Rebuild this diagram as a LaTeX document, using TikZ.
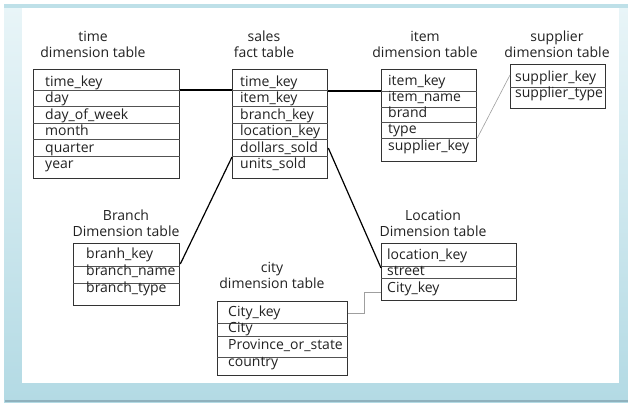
\documentclass[tikz,border=0pt]{standalone}
\usepackage{fontspec}
\setmainfont{Open Sans}
\definecolor{framebl}{HTML}{B3DAE4}
\definecolor{framelt}{HTML}{E9F5F8}
\definecolor{shadowbl}{HTML}{8FB1BD}
\definecolor{ink}{HTML}{222222}
\definecolor{rulec}{HTML}{333333}
\tikzset{
  tbl/.style={draw=rulec, line width=1.3pt, anchor=north west, inner sep=0pt},
  field/.style={anchor=base west, inner sep=0pt, text=ink, font=\fontsize{14}{16}\selectfont},
  ttl/.style={anchor=base, align=center, inner sep=0pt, text=ink, font=\fontsize{14}{16}\selectfont},
  rowsep/.style={draw=rulec!85, line width=0.8pt},
  link/.style={draw=black, line width=1.2pt},
  thinlink/.style={draw=gray!75, line width=0.6pt},
}
\begin{document}
\begin{tikzpicture}[x=1pt, y=-1pt]
\useasboundingbox (0,0) rectangle (628,407);
% frame
\fill[white] (0,0) rectangle (628,407);
\shade[top color=framelt, bottom color=framebl] (4,4) rectangle (628,402);
\fill[framebl!85] (4,4) rectangle (628,8);
\fill[shadowbl] (5,399.5) rectangle (628,402);
\fill[white] (22,8) rectangle (619,383);

% titles
\node[ttl] (timeT) at (93,57) {time\\dimension table};
\node[ttl] (salesT) at (264,57) {sales\\fact table};
\node[ttl] (itemT) at (425,57) {item\\dimension table};
\node[ttl] (suppT) at (557,57) {supplier\\dimension table};
\node[ttl] (branchT) at (126,236) {Branch\\Dimension table};
\node[ttl] (locT) at (433,236) {Location\\Dimension table};
\node[ttl] (cityT) at (272,288) {city\\dimension table};

% tables
\node[tbl, minimum width=146pt, minimum height=109pt] (time) at (33,69) {};
\node[tbl, minimum width=95pt, minimum height=109pt] (sales) at (232,69) {};
\node[tbl, minimum width=95pt, minimum height=92pt] (item) at (381,69) {};
\node[tbl, minimum width=95pt, minimum height=44pt] (supplier) at (510,64) {};
\node[tbl, minimum width=106pt, minimum height=62pt] (branch) at (73,243) {};
\node[tbl, minimum width=135pt, minimum height=57pt] (location) at (381,243) {};
\node[tbl, minimum width=130pt, minimum height=74pt] (city) at (217,301) {};

% row separators
\foreach \y in {90,106.5,123,139.5,156} {
  \draw[rowsep] (time.west |- 0,\y) -- (time.east |- 0,\y);
  \draw[rowsep] (sales.west |- 0,\y) -- (sales.east |- 0,\y);
}
\foreach \y in {91,107,122.5,138}
  \draw[rowsep] (item.west |- 0,\y) -- (item.east |- 0,\y);
\draw[rowsep] (supplier.west |- 0,87) -- (supplier.east |- 0,87);
\foreach \y in {266,283}
  \draw[rowsep] (branch.west |- 0,\y) -- (branch.east |- 0,\y);
\foreach \y in {266,278.5}
  \draw[rowsep] (location.west |- 0,\y) -- (location.east |- 0,\y);
\foreach \y in {323,336,357}
  \draw[rowsep] (city.west |- 0,\y) -- (city.east |- 0,\y);

% fields
\foreach \t/\y in {time\_key/86, day/102.5, day\_of\_week/119, month/135.5, quarter/152, year/168}
  \node[field] at (45,\y) {\t};
\foreach \t/\y in {time\_key/86, item\_key/102.5, branch\_key/119, location\_key/135.5, dollars\_sold/152, units\_sold/168}
  \node[field] at (240,\y) {\t};
\foreach \t/\y in {item\_key/85, item\_name/101, brand/117, type/133, supplier\_key/150}
  \node[field] at (388,\y) {\t};
\foreach \t/\y in {supplier\_key/81, supplier\_type/97}
  \node[field] at (515,\y) {\t};
\foreach \t/\y in {branh\_key/258, branch\_name/275, branch\_type/292}
  \node[field] at (86,\y) {\t};
\foreach \t/\y in {location\_key/259, street/275, City\_key/292}
  \node[field] at (387,\y) {\t};
\foreach \t/\y in {City\_key/316, City/332, Province\_or\_state/349, country/366}
  \node[field] at (228,\y) {\t};

% connectors
\draw[link] ([yshift=-21pt]time.north east) -- ([yshift=-21pt]sales.north west);
\draw[link] ([yshift=-22pt]sales.north east) -- ([yshift=-22pt]item.north west);
\draw[link] ([yshift=-88pt]sales.north west) -- ([yshift=-21pt]branch.north east);
\draw[link] ([yshift=-79pt]sales.north east) -- ([yshift=-25pt]location.north west);
\draw[thinlink] ([yshift=-69pt]item.north east) -- ([yshift=-11pt]supplier.north west);
\draw[thinlink] ([yshift=-12pt]city.north east) -- ++(16,0) |- ([yshift=-49pt]location.north west);
\end{tikzpicture}
\end{document}
